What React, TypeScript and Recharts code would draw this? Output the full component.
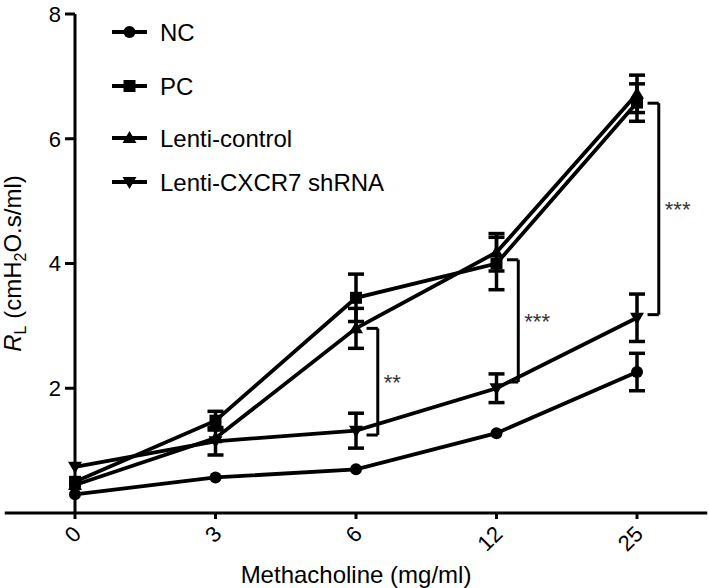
import { LineChart, Line, XAxis, YAxis, ErrorBar, ReferenceLine, Legend } from 'recharts';

// Methacholine doses (x categories)
const doses = ['0', '3', '6', '12', '25'];

// R_L means and SEM per group
const ncMean = [0.3, 0.57, 0.7, 1.28, 2.26];
const ncErr = [0, 0, 0, 0, 0.3];
const pcMean = [0.5, 1.48, 3.45, 4.0, 6.58];
const pcErr = [0, 0.15, 0.38, 0.42, 0.3];
const lentiCtrlMean = [0.45, 1.2, 2.96, 4.18, 6.72];
const lentiCtrlErr = [0, 0, 0.32, 0.3, 0.3];
const shRnaMean = [0.74, 1.15, 1.32, 2.0, 3.13];
const shRnaErr = [0, 0.22, 0.28, 0.23, 0.38];

const yTicks = [2, 4, 6, 8];

// significance brackets: dose index, top / bottom value, mark
const bracketAt = [2, 3, 4];
const bracketTop = [2.96, 4.06, 6.57];
const bracketBottom = [1.25, 2.1, 3.18];
const bracketMark = ['**', '***', '***'];

const FONT = '"Liberation Sans", Arial, Helvetica, sans-serif';

type Shape = 'circle' | 'square' | 'up' | 'down';

const series: { key: string; name: string; shape: Shape }[] = [
  { key: 'nc', name: 'NC', shape: 'circle' },
  { key: 'pc', name: 'PC', shape: 'square' },
  { key: 'ctrl', name: 'Lenti-control', shape: 'up' },
  { key: 'sh', name: 'Lenti-CXCR7 shRNA', shape: 'down' },
];

const data = doses.map((d, i) => ({
  idx: i,
  dose: d,
  nc: ncMean[i],
  ncErr: ncErr[i],
  pc: pcMean[i],
  pcErr: pcErr[i],
  ctrl: lentiCtrlMean[i],
  ctrlErr: lentiCtrlErr[i],
  sh: shRnaMean[i],
  shErr: shRnaErr[i],
}));

function Marker({ cx, cy, shape }: { cx: number; cy: number; shape: Shape }) {
  if (cx == null || cy == null) return null;
  if (shape === 'circle') return <circle cx={cx} cy={cy} r={6} fill="#000" />;
  if (shape === 'square') return <rect x={cx - 6} y={cy - 6} width={12} height={12} fill="#000" />;
  if (shape === 'up')
    return <polygon points={`${cx},${cy - 7} ${cx + 7},${cy + 5} ${cx - 7},${cy + 5}`} fill="#000" />;
  return <polygon points={`${cx},${cy + 7} ${cx + 7},${cy - 5} ${cx - 7},${cy - 5}`} fill="#000" />;
}

function DoseTick({ x, y, payload }: any) {
  return (
    <text
      transform={`translate(${x + 2},${y + 9}) rotate(-45)`}
      textAnchor="end"
      dominantBaseline="central"
      fontSize={22}
      fontFamily={FONT}
      fill="#000"
    >
      {doses[payload.value]}
    </text>
  );
}

function YTitle({ viewBox }: any) {
  const cy = viewBox ? viewBox.y + viewBox.height / 2 : 263;
  const x = (viewBox ? viewBox.x : 0) + 21;
  return (
    <text
      transform={`translate(${x},${cy}) rotate(-90)`}
      textAnchor="middle"
      fontSize={24}
      fontFamily={FONT}
      fill="#000"
    >
      <tspan fontStyle="italic">R</tspan>
      <tspan fontSize={16} dy={5}>L</tspan>
      <tspan dy={-5}> (cmH</tspan>
      <tspan fontSize={16} dy={5}>2</tspan>
      <tspan dy={-5}>O.s/ml)</tspan>
    </text>
  );
}

const legendRows = [32, 86, 138, 182];

function LegendBox() {
  return (
    <svg width={420} height={200} style={{ display: 'block' }}>
      {series.map((s, i) => (
        <g key={s.key}>
          <line x1={112} x2={147} y1={legendRows[i]} y2={legendRows[i]} stroke="#000" strokeWidth={4} />
          <Marker cx={129.5} cy={legendRows[i]} shape={s.shape} />
          <text x={160} y={legendRows[i]} dy="0.36em" fontSize={24} fontFamily={FONT} fill="#000">
            {s.name}
          </text>
        </g>
      ))}
    </svg>
  );
}

export default function App() {
  return (
    <div style={{ position: 'absolute', left: 0, top: 0, background: '#fff' }}>
      <LineChart
        width={709}
        height={588}
        data={data}
        margin={{ top: 14, right: 72, bottom: 0, left: 0 }}
        style={{ fontFamily: FONT }}
      >
        <XAxis
          dataKey="idx"
          type="number"
          domain={[0, 4]}
          ticks={[0, 1, 2, 3, 4]}
          height={75}
          axisLine={false}
          tickLine={{ stroke: '#000', strokeWidth: 3 }}
          tickSize={6}
          tick={<DoseTick />}
          label={{
            value: 'Methacholine (mg/ml)',
            position: 'insideBottom',
            offset: 5,
            fill: '#000',
            fontSize: 24,
            fontFamily: FONT,
          }}
        />
        <YAxis
          type="number"
          domain={[0, 8]}
          ticks={yTicks}
          width={75}
          axisLine={{ stroke: '#000', strokeWidth: 3 }}
          tickLine={{ stroke: '#000', strokeWidth: 3 }}
          tickSize={10}
          tickMargin={4}
          tick={{ fill: '#000', fontSize: 22, fontFamily: FONT }}
          label={<YTitle />}
        />
        <ReferenceLine
          segment={[{ x: -0.5, y: 0 }, { x: 4.5, y: 0 }]}
          stroke="#000"
          strokeWidth={3}
          ifOverflow="visible"
        />
        {bracketAt.map((at, i) => (
          <ReferenceLine
            key={`v${i}`}
            segment={[{ x: at + 0.155, y: bracketTop[i] }, { x: at + 0.155, y: bracketBottom[i] }]}
            stroke="#000"
            strokeWidth={3}
            ifOverflow="visible"
            label={{ value: bracketMark[i], position: 'right', offset: 6, fill: '#333', fontSize: 22, fontFamily: FONT }}
          />
        ))}
        {bracketAt.map((at, i) => (
          <ReferenceLine
            key={`t${i}`}
            segment={[{ x: at + 0.075, y: bracketTop[i] }, { x: at + 0.155, y: bracketTop[i] }]}
            stroke="#000"
            strokeWidth={3}
            ifOverflow="visible"
          />
        ))}
        {bracketAt.map((at, i) => (
          <ReferenceLine
            key={`b${i}`}
            segment={[{ x: at + 0.075, y: bracketBottom[i] }, { x: at + 0.155, y: bracketBottom[i] }]}
            stroke="#000"
            strokeWidth={3}
            ifOverflow="visible"
          />
        ))}
        {series.map((s) => (
          <Line
            key={s.key}
            dataKey={s.key}
            name={s.name}
            type="linear"
            stroke="#000"
            strokeWidth={3.8}
            isAnimationActive={false}
            activeDot={false}
            dot={(p: any) => <Marker key={`${s.key}-${p.index}`} cx={p.cx} cy={p.cy} shape={s.shape} />}
          >
            <ErrorBar dataKey={`${s.key}Err`} direction="y" width={8} stroke="#000" strokeWidth={3.5} />
          </Line>
        ))}
        <Legend
          layout="horizontal"
          verticalAlign="middle"
          align="center"
          wrapperStyle={{ left: 0, top: 0, width: 420, height: 200 }}
          content={() => <LegendBox />}
        />
      </LineChart>
    </div>
  );
}
